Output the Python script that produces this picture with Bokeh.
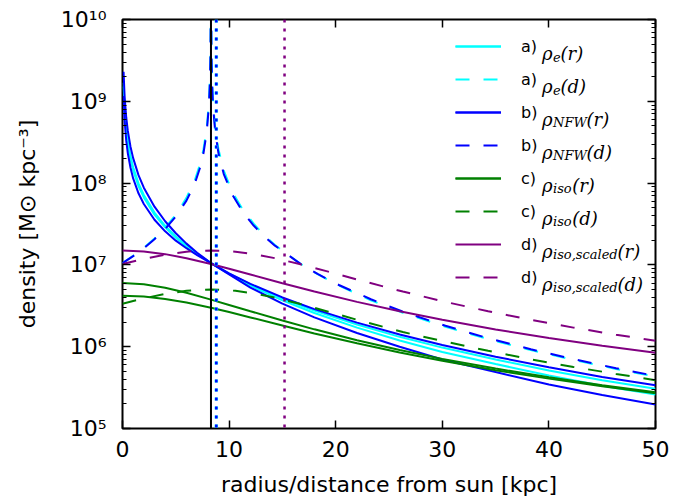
from bokeh.plotting import figure
from bokeh.models import (Range1d, LinearAxis, LogAxis, FixedTicker, Span,
                          Legend, LegendItem, Label, CustomJSTickFormatter)
from bokeh.core.properties import value
from bokeh.embed import file_html
from bokeh.resources import INLINE

# ---------------- data ----------------
R_SUN = 8.3          # solid black vertical line
R_DOT_NFW = 8.8      # blue dotted vertical line
R_DOT_ISO = 15.2     # purple dotted vertical line

X_TICKS = [0, 10, 20, 30, 40, 50]
Y_TICKS = [1e5, 1e6, 1e7, 1e8, 1e9, 1e10]
Y_TICK_LABELS = ["10⁵", "10⁶", "10⁷", "10⁸", "10⁹", "10¹⁰"]
X_LABEL = "radius/distance from sun [kpc]"
Y_LABEL = "density [M⊙ kpc⁻³]"

# radius grid for the cuspy profiles (kpc)
R = [0.1, 0.2, 0.35, 0.5, 0.75, 1, 1.5, 2, 3, 4, 5, 6, 7, 8.3, 10, 12, 15,
     18, 22, 26, 30, 35, 40, 45, 50]
RHO_E_R_1 = [1.52e9, 7.59e8, 4.29e8, 2.97e8, 1.95e8, 1.43e8, 9.2e7, 6.68e7,
             4.12e7, 2.88e7, 2.15e7, 1.68e7, 1.36e7, 1.05e7, 7.83e6, 5.77e6,
             3.88e6, 2.76e6, 1.87e6, 1.32e6, 9.75e5, 6.98e5, 5.13e5, 3.89e5, 3.06e5]
RHO_E_R_2 = [1.69e9, 8.39e8, 4.73e8, 3.27e8, 2.14e8, 1.56e8, 9.93e7, 7.15e7,
             4.37e7, 3.01e7, 2.22e7, 1.72e7, 1.37e7, 1.05e7, 7.76e6, 5.57e6,
             3.68e6, 2.58e6, 1.71e6, 1.19e6, 8.63e5, 6.14e5, 4.44e5, 3.34e5, 2.6e5]
RHO_NFW_R_1 = [1.16e9, 5.8e8, 3.3e8, 2.31e8, 1.54e8, 1.14e8, 7.5e7, 5.56e7,
               3.56e7, 2.57e7, 1.98e7, 1.6e7, 1.32e7, 1.05e7, 7.87e6, 5.86e6,
               4.0e6, 2.88e6, 1.97e6, 1.41e6, 1.05e6, 7.55e5, 5.6e5, 4.27e5, 3.37e5]
RHO_NFW_R_2 = [2.3e9, 1.13e9, 6.34e8, 4.34e8, 2.79e8, 2.02e8, 1.25e8, 8.8e7,
               5.15e7, 3.42e7, 2.44e7, 1.82e7, 1.41e7, 1.05e7, 7.64e6, 5.27e6,
               3.36e6, 2.28e6, 1.47e6, 1.0e6, 6.97e5, 4.9e5, 3.45e5, 2.57e5, 1.96e5]

# radius grid for the cored profiles (kpc)
R_CORE = [0, 2, 4, 6, 8.3, 10, 12, 15, 18, 22, 26, 30, 35, 40, 45, 50]
RHO_ISO_R_1 = [6.0e6, 5.8e6, 5.27e6, 4.57e6, 3.76e6, 3.24e6, 2.71e6, 2.09e6,
               1.63e6, 1.2e6, 9.1e5, 7.1e5, 5.4e5, 4.22e5, 3.38e5, 2.77e5]
RHO_ISO_R_2 = [4.2e6, 4.1e6, 3.84e6, 3.47e6, 3.0e6, 2.65e6, 2.28e6, 1.82e6,
               1.45e6, 1.1e6, 8.5e5, 6.73e5, 5.16e5, 4.07e5, 3.28e5, 2.7e5]
RHO_ISOS_R = [1.5e7, 1.461e7, 1.354e7, 1.208e7, 1.025e7, 8.97e6, 7.62e6, 5.97e6,
              4.72e6, 3.53e6, 2.71e6, 2.13e6, 1.625e6, 1.277e6, 1.027e6, 8.43e5]

# distance-from-sun grid for the cuspy profiles (kpc)
D = [0, 1, 2, 3, 4, 5, 6, 6.8, 7.3, 7.6, 7.9, 8.1, 8.2, 8.25, 8.3, 8.35, 8.4,
     8.5, 8.7, 9.0, 9.5, 10.3, 11.3, 12.3, 13.3, 14.3, 16.6, 18.3, 20.3, 23.3,
     26.3, 30.3, 34.3, 38.3, 42.3, 46.3, 50]
RHO_E_D = [1.05e7, 1.29e7, 1.62e7, 2.1e7, 2.85e7, 4.1e7, 6.6e7, 1.1e8, 1.75e8,
           2.6e8, 4.7e8, 9.5e8, 1.9e9, 3.7e9, 3e10, 3.7e9, 1.9e9, 9.5e8, 4.7e8,
           2.6e8, 1.42e8, 7.8e7, 4.7e7, 3.2e7, 2.3e7, 1.75e7, 1.05e7, 7.7e6,
           5.6e6, 3.7e6, 2.6e6, 1.75e6, 1.24e6, 9.1e5, 6.9e5, 5.35e5, 4.3e5]
RHO_NFW_D = [1.05e7, 1.28e7, 1.6e7, 2.06e7, 2.75e7, 3.9e7, 6.1e7, 1.0e8, 1.58e8,
             2.33e8, 4.19e8, 8.55e8, 1.73e9, 3.47e9, 3e10, 3.47e9, 1.73e9, 8.55e8,
             4.19e8, 2.33e8, 1.29e8, 7.21e7, 4.4e7, 3.03e7, 2.23e7, 1.72e7, 1.05e7,
             7.75e6, 5.68e6, 3.8e6, 2.68e6, 1.8e6, 1.27e6, 9.3e5, 7.04e5, 5.46e5, 4.39e5]

# distance-from-sun grid for the cored profiles (kpc)
D_CORE = [0, 2, 4, 6, 7, 8.3, 9.6, 10.6, 12.3, 14.3, 16.6, 19.3, 22.3, 26.3,
          30.3, 34.3, 38.3, 42.3, 46.3, 50]
RHO_ISO_D = [3.35e6, 3.9e6, 4.42e6, 4.82e6, 4.94e6, 5.0e6, 4.94e6, 4.82e6,
             4.49e6, 3.98e6, 3.35e6, 2.68e6, 2.08e6, 1.51e6, 1.15e6, 8.9e5,
             7.0e5, 5.65e5, 4.65e5, 3.9e5]
RHO_ISOS_D = [1.025e7, 1.184e7, 1.334e7, 1.449e7, 1.483e7, 1.5e7, 1.483e7,
              1.449e7, 1.354e7, 1.208e7, 1.025e7, 8.27e6, 6.47e6, 4.72e6,
              3.53e6, 2.71e6, 2.13e6, 1.711e6, 1.402e6, 1.183e6]

LEGEND_TAGS = ["a)", "a)", "b)", "b)", "c)", "c)", "d)", "d)"]
LEGEND_SUBS = ["e", "e", "NFW", "NFW", "iso", "iso", "iso,scaled", "iso,scaled"]
LEGEND_ARGS = ["(r)", "(d)", "(r)", "(d)", "(r)", "(d)", "(r)", "(d)"]

# ---------------- styles ----------------
CYAN, BLUE, GREEN, PURPLE = "#00FFFF", "#0000FF", "#008000", "#800080"
DASH = "14 14"
LW = 2
FONT = "DejaVu Sans"
MATH = "DejaVu Serif"

FL, FB = 122, 428      # page pixels of frame left / frame bottom
H = 496

p = figure(x_range=Range1d(0, 50), y_range=Range1d(1e5, 1e10), y_axis_type="log",
           frame_width=533, frame_height=409,
           min_border_left=FL, min_border_right=38, min_border_top=19,
           min_border_bottom=H - FB, output_backend="svg", toolbar_location=None,
           background_fill_color="white", border_fill_color="white")
p.xgrid.visible = False
p.ygrid.visible = False
p.outline_line_color = "black"
p.outline_line_width = 2

y_minor = [k * t for t in Y_TICKS[:-1] for k in range(2, 10)]
ytick_fmt = CustomJSTickFormatter(args=dict(tvals=Y_TICKS, tlabels=Y_TICK_LABELS), code="""
    for (let i = 0; i < tvals.length; i++) {
        if (Math.abs(Math.log10(tvals[i]) - Math.log10(tick)) < 1e-6) return tlabels[i];
    }
    return "";
""")

def style_axis(ax, labels=True):
    ax.axis_line_color = None
    ax.major_tick_in = 8
    ax.major_tick_out = 0
    ax.minor_tick_in = 4
    ax.minor_tick_out = 0
    ax.major_tick_line_width = 1.5
    ax.minor_tick_line_width = 1.2
    ax.major_tick_line_color = "black"
    ax.minor_tick_line_color = "black"
    if labels:
        ax.major_label_text_font = FONT
        ax.major_label_text_font_size = "22px"
        ax.major_label_text_color = "black"
        ax.axis_label_text_font = FONT
        ax.axis_label_text_font_size = "22px"
        ax.axis_label_text_font_style = "normal"
        ax.axis_label_text_color = "black"
    else:
        ax.major_label_text_color = None
        ax.major_label_text_font_size = "0px"
        ax.major_label_standoff = 0

xax = p.xaxis[0]
xax.ticker = FixedTicker(ticks=X_TICKS)
style_axis(xax)
xax.minor_tick_in = 0
xax.major_label_standoff = 12
xax.axis_label = X_LABEL
xax.axis_label_standoff = 12

yax = p.yaxis[0]
yax.ticker = FixedTicker(ticks=Y_TICKS, minor_ticks=y_minor)
yax.formatter = ytick_fmt
style_axis(yax)
yax.major_label_standoff = 16
yax.axis_label = Y_LABEL
yax.axis_label_standoff = 18

top = LinearAxis(ticker=FixedTicker(ticks=X_TICKS))
style_axis(top, labels=False)
top.minor_tick_in = 0
p.add_layout(top, "above")

right = LogAxis(ticker=FixedTicker(ticks=Y_TICKS, minor_ticks=y_minor))
style_axis(right, labels=False)
p.add_layout(right, "right")

# ---------------- curves ----------------
c1 = p.line(R, RHO_E_R_1, line_color=CYAN, line_width=LW)
c2 = p.line(R, RHO_E_R_2, line_color=CYAN, line_width=LW)
cd = p.line(D, RHO_E_D, line_color=CYAN, line_width=LW, line_dash=DASH)
b1 = p.line(R, RHO_NFW_R_1, line_color=BLUE, line_width=LW)
b2 = p.line(R, RHO_NFW_R_2, line_color=BLUE, line_width=LW)
bd = p.line(D, RHO_NFW_D, line_color=BLUE, line_width=LW, line_dash=DASH)
g1 = p.line(R_CORE, RHO_ISO_R_1, line_color=GREEN, line_width=LW)
g2 = p.line(R_CORE, RHO_ISO_R_2, line_color=GREEN, line_width=LW)
gd = p.line(D_CORE, RHO_ISO_D, line_color=GREEN, line_width=LW, line_dash=DASH)
pr = p.line(R_CORE, RHO_ISOS_R, line_color=PURPLE, line_width=LW)
pd = p.line(D_CORE, RHO_ISOS_D, line_color=PURPLE, line_width=LW, line_dash=DASH)

p.add_layout(Span(location=R_SUN, dimension="height", line_color="black", line_width=2))
p.add_layout(Span(location=R_DOT_NFW, dimension="height", line_color=CYAN,
                  line_width=3.5, line_dash="3 6"))
p.add_layout(Span(location=R_DOT_NFW, dimension="height", line_color=BLUE,
                  line_width=2.5, line_dash="3 6"))
p.add_layout(Span(location=R_DOT_ISO, dimension="height", line_color=PURPLE,
                  line_width=2.5, line_dash="3 6"))

# ---------------- legend ----------------
groups = [[c1, c2], [cd], [b1, b2], [bd], [g1, g2], [gd], [pr], [pd]]
items = [LegendItem(label=value(t), renderers=g) for t, g in zip(LEGEND_TAGS, groups)]
legend = Legend(items=items, location=(333, 136), glyph_width=46, glyph_height=30,
                label_height=30, spacing=3, padding=0, margin=0, label_standoff=20,
                label_text_font=FONT, label_text_font_size="16px",
                label_text_color="black", label_text_baseline="middle",
                border_line_color=None, background_fill_alpha=0)
p.add_layout(legend)

def ptxt(x, y, s, font=MATH, size=18, style="italic"):
    # page pixel position inside the main frame
    p.add_layout(Label(x=x - FL, y=FB - y, x_units="screen", y_units="screen", text=s,
                       text_font=font, text_font_size=f"{size}px",
                       text_font_style=style, text_align="left",
                       text_baseline="alphabetic", text_color="black"))

paren_x = {"e": 560, "NFW": 586, "iso": 571.7, "iso,scaled": 617}
for i, (sub, arg) in enumerate(zip(LEGEND_SUBS, LEGEND_ARGS)):
    yc = 46 + 33 * i
    ptxt(541.5, yc + 6.5, "ρ")
    ptxt(552.5, yc + 10, sub, size=13)
    ptxt(paren_x[sub], yc + 6.5, arg)

open("out.html", "w").write(file_html(p, INLINE))
